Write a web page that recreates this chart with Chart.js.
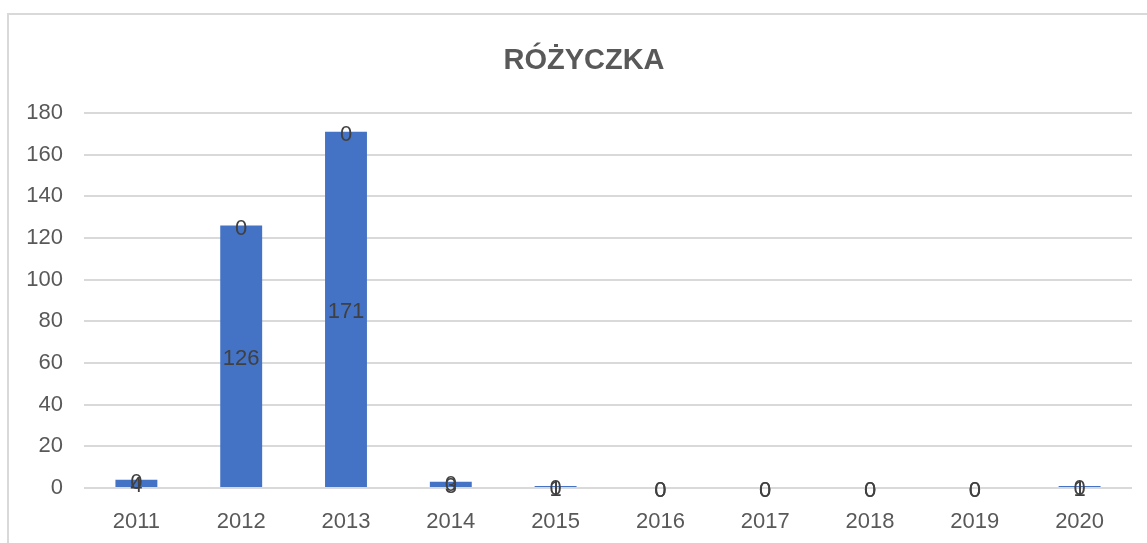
<!DOCTYPE html>
<html>
<head>
<meta charset="utf-8">
<script src="https://cdn.jsdelivr.net/npm/chart.js@4"></script>
<style>
  html, body { margin: 0; padding: 0; background: #fff; overflow: hidden; }
  #wrap { position: relative; width: 1147px; height: 543px; }
  #frame { position: absolute; left: 7px; top: 13px; width: 2000px; height: 2000px;
           border-left: 2px solid #d9d9d9; border-top: 2px solid #d9d9d9; }
  #chart { position: absolute; left: 0; top: 0; }
</style>
</head>
<body>
<div id="wrap">
  <div id="frame"></div>
  <canvas id="chart" width="1147" height="543"></canvas>
</div>
<script>
var title = 'RÓŻYCZKA';
var years = ['2011', '2012', '2013', '2014', '2015', '2016', '2017', '2018', '2019', '2020'];
var cases = [4, 126, 171, 3, 1, 0, 0, 0, 0, 1];
var other = [0, 0, 0, 0, 0, 0, 0, 0, 0, 0];
var yTicks = [0, 20, 40, 60, 80, 100, 120, 140, 160, 180];

var fontFam = '"Liberation Sans", Arial, sans-serif';

// draws value labels (center of each bar) and the title
var labelsPlugin = {
  id: 'labels',
  afterDatasetsDraw: function (chart) {
    var ctx = chart.ctx;
    ctx.save();
    ctx.font = '22px ' + fontFam;
    ctx.fillStyle = '#404040';
    ctx.textAlign = 'center';
    ctx.textBaseline = 'middle';
    chart.data.datasets.forEach(function (ds, i) {
      var meta = chart.getDatasetMeta(i);
      meta.data.forEach(function (bar, j) {
        var y = (bar.y + bar.base) / 2;
        ctx.fillText(String(ds.data[j]), bar.x, y + 3);
      });
    });
    ctx.restore();
  },
  afterDraw: function (chart) {
    var ctx = chart.ctx;
    ctx.save();
    ctx.font = 'bold 29px ' + fontFam;
    ctx.fillStyle = '#595959';
    ctx.textAlign = 'center';
    ctx.textBaseline = 'middle';
    ctx.fillText(title, 584, 61);
    ctx.restore();
  }
};

new Chart(document.getElementById('chart'), {
  type: 'bar',
  data: {
    labels: years,
    datasets: [
      { label: 'a', data: cases, backgroundColor: '#4472c4' },
      { label: 'b', data: other, backgroundColor: '#ed7d31' }
    ]
  },
  options: {
    responsive: false,
    animation: false,
    devicePixelRatio: 1,
    layout: { padding: { top: 113, right: 15, bottom: 0, left: 0 } },
    plugins: { legend: { display: false }, title: { display: false }, tooltip: { enabled: false } },
    datasets: { bar: { categoryPercentage: 1, barPercentage: 0.4 } },
    scales: {
      x: {
        stacked: true,
        grid: { display: false, drawTicks: false },
        border: { display: false },
        ticks: { color: '#595959', font: { family: fontFam, size: 22 }, padding: 21 },
        afterFit: function (s) { s.height = 55; }
      },
      y: {
        stacked: true,
        min: 0,
        max: 180,
        afterBuildTicks: function (s) { s.ticks = yTicks.map(function (v) { return { value: v }; }); },
        grid: { color: '#d9d9d9', lineWidth: 2, drawTicks: false },
        border: { display: false },
        ticks: { color: '#595959', font: { family: fontFam, size: 22 }, padding: 21 },
        afterFit: function (s) { s.width = 84; }
      }
    }
  },
  plugins: [labelsPlugin]
});
</script>
</body>
</html>
